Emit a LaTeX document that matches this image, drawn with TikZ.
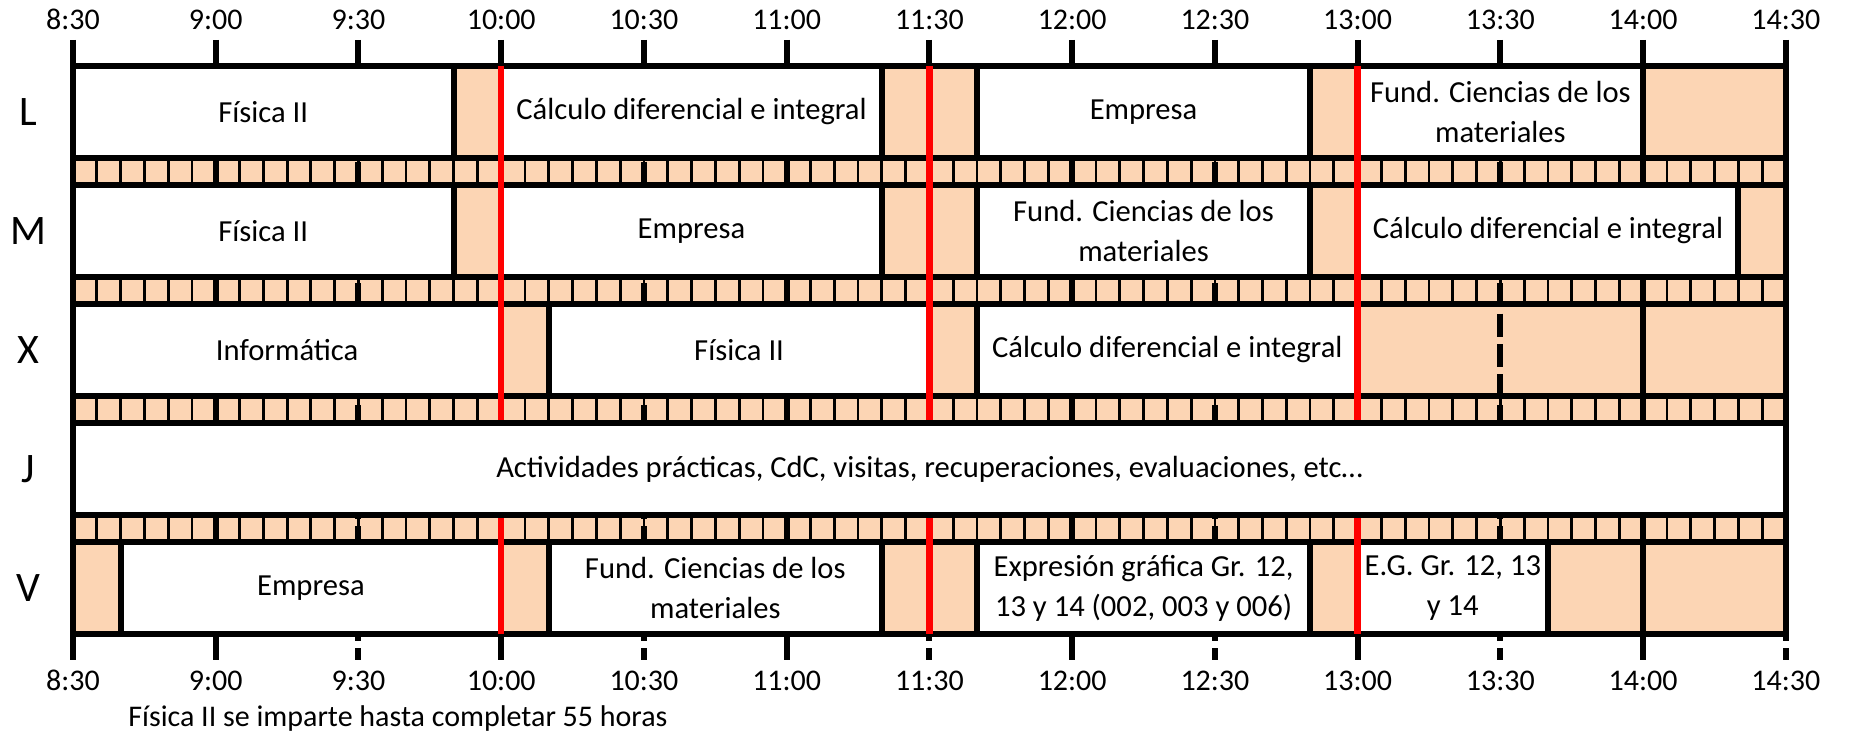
\documentclass[tikz,border=0pt]{standalone}
\usepackage{fontspec}
\setmainfont{Carlito}
\usepackage{tikz}
\definecolor{pausa}{RGB}{252,213,180}
\definecolor{rojo}{RGB}{255,0,0}
\tikzstyle{clase} = [
    rectangle,
    draw=black,
    fill=white,
    line width=3pt,
    minimum height=46pt,
    inner sep=0pt,
    align=center,
    font=\fontsize{15.3}{20}\selectfont
]
\tikzstyle{dia}    = [font=\fontsize{21}{22}\selectfont]
\tikzstyle{hora}   = [font=\fontsize{15}{18}\selectfont, anchor=base, inner sep=0pt]
\tikzstyle{borde}  = [line width=3pt]
\tikzstyle{media}  = [line width=3pt, dash pattern=on 11.5pt off 3.7pt]
\tikzstyle{fina}   = [line width=1.4pt]
\tikzstyle{recreo} = [draw=rojo, line width=3.2pt]
\tikzset{dur/.style={minimum width=#1*2.379pt}}

\begin{document}
\begin{tikzpicture}[x=2.379pt, y=-0.5pt]
\useasboundingbox (-15.34,0) rectangle (374.53,733);

% descansos
\fill[pausa] (0,66) rectangle (360,634);
\foreach \y in {158,277,396,515} {
  \foreach \k in {1,...,71}
    \draw[fina] (5*\k,\y) -- (5*\k,\y+27);
}

% horas y medias horas
\foreach \t in {30,90,...,330}
  \draw[borde] (\t,40) -- (\t,660);
\foreach \t in {60,120,...,360}
  \draw[media] (\t,40) -- (\t,660);
\draw[borde] (0,40) -- (0,660);
\draw[borde] (360,66) -- (360,634);
\foreach \y in {66,158,185,277,304,396,423,515,542,634}
  \draw[borde, line cap=rect] (0,\y) -- (360,\y);

\foreach \t/\h in {0/8:30,30/9:00,60/9:30,90/10:00,120/10:30,150/11:00,180/11:30,
                   210/12:00,240/12:30,270/13:00,300/13:30,330/14:00,360/14:30} {
  \node[hora] (arr\t) at (\t,30)  {\h};
  \node[hora] (aba\t) at (\t,690) {\h};
}

\node[dia] (L) at (-9.4,112) {L};
\node[dia] (M) at (-9.4,231) {M};
\node[dia] (X) at (-9.4,350) {X};
\node[dia] (J) at (-9.4,469) {J};
\node[dia] (V) at (-9.4,588) {V};

% lunes
\node[clase, dur=80] (lfis) at (40,112)  {Física II};
\node[clase, dur=80] (lcal) at (130,112) {Cálculo diferencial e integral};
\node[clase, dur=70] (lemp) at (225,112) {Empresa};
\node[clase, dur=60] (lfun) at (300,112) {Fund. Ciencias de los\\materiales};

% martes
\node[clase, dur=80] (mfis) at (40,231)  {Física II};
\node[clase, dur=80] (memp) at (130,231) {Empresa};
\node[clase, dur=70] (mfun) at (225,231) {Fund. Ciencias de los\\materiales};
\node[clase, dur=80] (mcal) at (310,231) {Cálculo diferencial e integral};

% miercoles
\node[clase, dur=90] (xinf) at (45,350)  {Informática};
\node[clase, dur=80] (xfis) at (140,350) {Física II};
\node[clase, dur=80] (xcal) at (230,350) {Cálculo diferencial e integral};

% viernes
\node[clase, dur=80] (vemp) at (50,588)  {Empresa};
\node[clase, dur=70] (vfun) at (135,588) {Fund. Ciencias de los\\materiales};
\node[clase, dur=70] (vexp) at (225,588) {Expresión gráfica Gr. 12,\\13 y 14 (002, 003 y 006)};
\node[clase, dur=40] (veg)  at (290,588) {E.G. Gr. 12, 13\\y 14};

\foreach \t in {90,180,270}
  \draw[recreo] (\t,66) -- (\t,634);

% jueves
\node[clase, dur=360] (jact) at (180,469)
  {Actividades prácticas, CdC, visitas, recuperaciones, evaluaciones, etc…};

\node[hora, anchor=base west] (nota) at (11.56,726)
  {Física II se imparte hasta completar 55 horas};
\end{tikzpicture}
\end{document}
